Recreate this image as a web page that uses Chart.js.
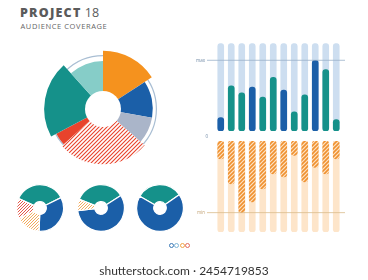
<!DOCTYPE html>
<html>
<head>
<meta charset="utf-8">
<script src="https://cdn.jsdelivr.net/npm/chart.js@4.4.1/dist/chart.umd.min.js"></script>
<style>
  body { margin: 0; background: #fff; width: 368px; height: 280px; position: relative; overflow: hidden; font-family: "Open Sans", sans-serif; }
  canvas { position: absolute; }
  .title { position: absolute; left: 20px; top: 7.2px; font-size: 12.5px; line-height: 1; color: #5b5b5b; white-space: nowrap; }
  .title b { font-weight: 800; letter-spacing: 1.2px; }
  .sub { position: absolute; left: 20.5px; top: 22.6px; font-size: 7.5px; line-height: 1; color: #666; letter-spacing: 0.6px; white-space: nowrap; }
  .dot { position: absolute; width: 3px; height: 3px; border-radius: 50%; border: 1px solid; }
  .mark { position: absolute; left: 0; width: 368px; top: 263px; text-align: center; font-family: Lato, sans-serif; font-size: 12px; color: #333; }
</style>
</head>
<body>
<div class="title"><b>PROJECT</b> 18</div>
<div class="sub">AUDIENCE COVERAGE</div>

<canvas id="bigPie" width="130" height="130" style="left:38px;top:44px"></canvas>
<canvas id="pieA" width="48" height="48" style="left:16px;top:184px"></canvas>
<canvas id="pieB" width="48" height="48" style="left:76.5px;top:184px"></canvas>
<canvas id="pieC" width="48" height="48" style="left:136px;top:184px"></canvas>
<canvas id="topBars" width="165" height="103" style="left:190px;top:38px"></canvas>
<canvas id="bottomBars" width="165" height="100" style="left:190px;top:136px"></canvas>

<div id="dots"></div>
<div class="mark">shutterstock.com · 2454719853</div>

<script>
// big pie: segments clockwise from 12 o'clock
const segLabels = ["Orange", "Blue", "Grey", "Hatched", "Red", "Teal", "Light teal"];
const segValues = [97, 83, 83, 92, 88, 98, 80];   // radius, % of max
const segAngles = [57, 43, 31, 97, 14, 76, 42];   // degrees
const holeValue = 30;
const ringValue = 89;

// bar panels
const weeks = ["W1", "W2", "W3", "W4", "W5", "W6", "W7", "W8", "W9", "W10", "W11", "W12"];
const coverage = [19, 64, 54, 62, 48, 76, 58, 27, 51, 100, 87, 16];
const coverageKind = ["blue", "teal", "teal", "blue", "teal", "teal", "blue", "teal", "teal", "blue", "teal", "teal"];
const loss = [25, 60, 100, 85, 67, 46, 50, 20, 57, 37, 46, 25];
const topTrack = 124;
const bottomTrack = 127;

// small pies (percent)
const pieALabels = ["Teal", "Blue", "Orange", "Red"];
const pieAValues = [36, 33, 17, 14];
const pieBLabels = ["Teal", "Blue", "Orange"];
const pieBValues = [35, 57, 8];
const pieCLabels = ["Teal", "Blue"];
const pieCValues = [32, 68];

const ORANGE = "#f5921e", BLUE = "#1b5fa8", GREY = "#aab5c9", RED = "#e8432c",
      TEAL = "#15918a", LTEAL = "#86cdc8";

// striped fill
function hatch(color, bg, size, lw) {
    const c = document.createElement("canvas");
    c.width = size; c.height = size;
    const g = c.getContext("2d");
    if (bg) { g.fillStyle = bg; g.fillRect(0, 0, size, size); }
    g.strokeStyle = color;
    g.lineWidth = lw;
    g.beginPath();
    g.moveTo(0, size); g.lineTo(size, 0);
    g.moveTo(-size / 2, size / 2); g.lineTo(size / 2, -size / 2);
    g.moveTo(size / 2, size * 1.5); g.lineTo(size * 1.5, size / 2);
    g.stroke();
    return g.createPattern(c, "repeat");
}

const noChrome = { legend: { display: false }, tooltip: { enabled: false } };

// ring behind the pie and white hole on top
const pieDecor = {
    id: "pieDecor",
    beforeDatasetsDraw(chart) {
        const r = chart.scales.r, ctx = chart.ctx;
        ctx.save();
        ctx.strokeStyle = "#a9bed3";
        ctx.lineWidth = 1.2;
        ctx.beginPath();
        ctx.arc(r.xCenter, r.yCenter, r.getDistanceFromCenterForValue(ringValue), 0, Math.PI * 2);
        ctx.stroke();
        ctx.restore();
    },
    afterDatasetsDraw(chart) {
        const r = chart.scales.r, ctx = chart.ctx;
        ctx.save();
        ctx.fillStyle = "#fff";
        ctx.beginPath();
        ctx.arc(r.xCenter, r.yCenter, r.getDistanceFromCenterForValue(holeValue), 0, Math.PI * 2);
        ctx.fill();
        ctx.restore();
    }
};

const redHatch = hatch(RED, "#fff", 4, 1.1);
const segColors = [ORANGE, BLUE, GREY, redHatch, RED, TEAL, LTEAL];

new Chart(document.getElementById("bigPie"), {
    type: "polarArea",
    data: {
        labels: segLabels,
        datasets: [{
            data: segValues,
            angle: c => segAngles[c.dataIndex],
            backgroundColor: c => segColors[c.dataIndex],
            borderWidth: 0
        }]
    },
    options: {
        responsive: false,
        animation: false,
        layout: { padding: 5 },
        plugins: noChrome,
        scales: { r: { display: false, min: 0, max: 100 } }
    },
    plugins: [pieDecor]
});

// small doughnuts
function smallPie(id, labels, values, colors, rotation) {
    new Chart(document.getElementById(id), {
        type: "doughnut",
        data: { labels: labels, datasets: [{ data: values, backgroundColor: c => colors[c.dataIndex], borderColor: "#fff", borderWidth: 1.2 }] },
        options: {
            responsive: false,
            animation: false,
            rotation: rotation,
            cutout: "27%",
            plugins: noChrome
        }
    });
}
const orangeHatch = hatch("#f2aa5c", "#fff", 3, 1);
smallPie("pieA", pieALabels, pieAValues, [TEAL, BLUE, orangeHatch, hatch("#e5584a", "#fff", 3, 1)], -66);
smallPie("pieB", pieBLabels, pieBValues, [TEAL, BLUE, orangeHatch], -68);
smallPie("pieC", pieCLabels, pieCValues, [TEAL, BLUE], -60);

// reference line with tiny label
function refLine(value, text, color, textColor, extra) {
    return {
        id: "ref" + text,
        afterDatasetsDraw(chart) {
            const ctx = chart.ctx, a = chart.chartArea;
            const y = chart.scales.y.getPixelForValue(value);
            ctx.save();
            ctx.strokeStyle = color;
            ctx.lineWidth = 0.8;
            ctx.beginPath();
            ctx.moveTo(a.left - 8.5, y);
            ctx.lineTo(a.right + 3.5, y);
            ctx.stroke();
            ctx.fillStyle = textColor;
            ctx.font = "4.5px 'Open Sans'";
            ctx.textAlign = "right";
            ctx.textBaseline = "middle";
            ctx.fillText(text, a.left - 10.5, y);
            if (extra) extra(ctx, chart);
            ctx.restore();
        }
    };
}

function barOptions(max, reverse, padding) {
    return {
        responsive: false,
        animation: false,
        layout: { padding: padding },
        plugins: noChrome,
        scales: {
            x: { display: false },
            y: { display: false, min: 0, max: max, reverse: reverse }
        }
    };
}

const barStyle = { barThickness: 6, borderRadius: 3, borderSkipped: false, grouped: false };

new Chart(document.getElementById("topBars"), {
    type: "bar",
    data: {
        labels: weeks,
        datasets: [
            Object.assign({ data: coverage, backgroundColor: coverageKind.map(k => k === "blue" ? BLUE : TEAL) }, barStyle),
            Object.assign({ data: weeks.map(() => topTrack), backgroundColor: "#cddef0" }, barStyle)
        ]
    },
    options: barOptions(topTrack, false, { left: 25.5, right: 13.5, top: 5.3, bottom: 10 }),
    plugins: [refLine(100, "max", "#9ab1c9", "#6f89a5", (ctx, chart) => {
        const a = chart.chartArea;
        ctx.textAlign = "center";
        ctx.fillText("0", a.left - 8.8, chart.scales.y.getPixelForValue(0) + 5.7);
    })]
});

new Chart(document.getElementById("bottomBars"), {
    type: "bar",
    data: {
        labels: weeks,
        datasets: [
            Object.assign({ data: loss, backgroundColor: hatch("#ef9130", "#fde2c4", 4, 1.6) }, barStyle),
            Object.assign({ data: weeks.map(() => bottomTrack), backgroundColor: "#fde5ca" }, barStyle)
        ]
    },
    options: barOptions(bottomTrack, true, { left: 25.5, right: 13.5, top: 5, bottom: 4 }),
    plugins: [refLine(100, "min", "#d9bb8c", "#c2a274")]
});

// little ring markers under the pies
const dotColors = ["#3b78b6", "#7fb5d6", "#f0a345", "#e26a5c"];
const dotX = [171.7, 176.7, 182, 187.3];
dotColors.forEach((c, i) => {
    const d = document.createElement("div");
    d.className = "dot";
    d.style.borderColor = c;
    d.style.left = (dotX[i] - 2.5) + "px";
    d.style.top = "242.8px";
    document.getElementById("dots").appendChild(d);
});
</script>
</body>
</html>
